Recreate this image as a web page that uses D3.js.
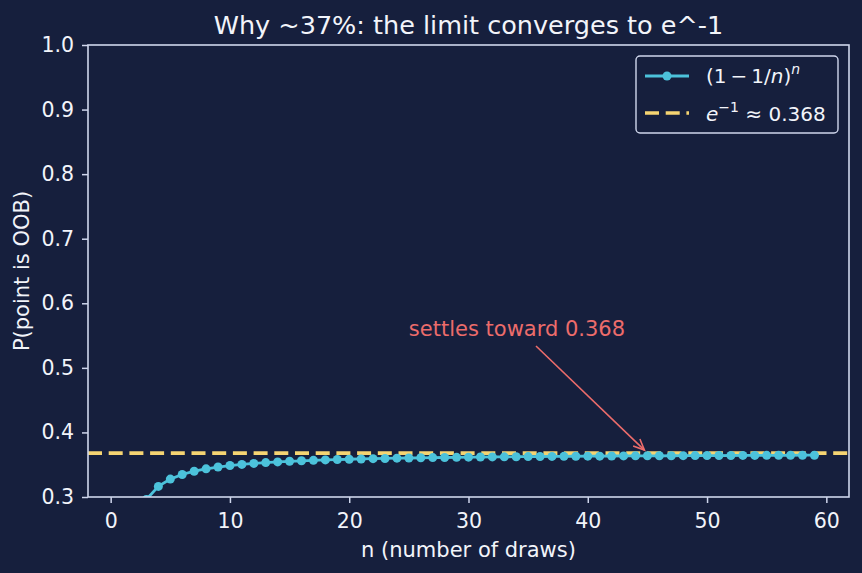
<!DOCTYPE html>
<html><head><meta charset="utf-8">
<script src="https://cdn.jsdelivr.net/npm/d3@7"></script>
<style>body{margin:0;background:#161f3d;} svg{display:block;font-family:"DejaVu Sans",sans-serif;}</style>
</head><body><svg id="c" width="862" height="573"></svg>
<script>
const nValues = d3.range(1, 60);
const probValues = [0.0000,0.2500,0.2963,0.3164,0.3277,0.3349,0.3399,0.3436,0.3464,0.3487,
0.3505,0.3520,0.3533,0.3543,0.3553,0.3561,0.3568,0.3574,0.3580,0.3585,
0.3589,0.3594,0.3597,0.3601,0.3604,0.3607,0.3610,0.3612,0.3614,0.3617,
0.3619,0.3621,0.3622,0.3624,0.3626,0.3627,0.3629,0.3630,0.3631,0.3632,
0.3633,0.3635,0.3636,0.3637,0.3638,0.3638,0.3639,0.3640,0.3641,0.3642,
0.3642,0.3643,0.3644,0.3644,0.3645,0.3646,0.3646,0.3647,0.3647];
const limitValue = 0.368;
const xTicks = [0,10,20,30,40,50,60];
const yTicks = [0.3,0.4,0.5,0.6,0.7,0.8,0.9,1.0];
const annot = {text:"settles toward 0.368", tx:25, ty:0.55, ax:45, ay:0.368};

const W=862,H=573, L=88,R=849,T=45,B=497;
const bg="#161f3d", fg="#f2f4fa", spine="#cfd6ec", cyan="#4cc2db", yellow="#f5d472", red="#ec6c6b";
const svg=d3.select("#c");
svg.append("rect").attr("width",W).attr("height",H).attr("fill",bg);
const x=d3.scaleLinear().domain([-1.9,61.9]).range([L,R]);
const y=d3.scaleLinear().domain([0.3,1.0]).range([B,T]);

const defs=svg.append("defs");
defs.append("clipPath").attr("id","clip").append("rect")
  .attr("x",L).attr("y",T).attr("width",R-L).attr("height",B-T);

const g=svg.append("g").attr("clip-path","url(#clip)");
g.append("line").attr("x1",L).attr("x2",R).attr("y1",y(limitValue)).attr("y2",y(limitValue))
  .attr("stroke",yellow).attr("stroke-width",3.6).attr("stroke-dasharray","14,6.7");
const data=nValues.map((n,i)=>[n,probValues[i]]);
g.append("path").datum(data).attr("d",d3.line().x(d=>x(d[0])).y(d=>y(d[1])))
  .attr("fill","none").attr("stroke",cyan).attr("stroke-width",2.8);
g.selectAll("circle").data(data).join("circle").attr("cx",d=>x(d[0])).attr("cy",d=>y(d[1]))
  .attr("r",4.5).attr("fill",cyan);

// axes
const xa=svg.append("g").attr("transform",`translate(0,${B})`)
  .call(d3.axisBottom(x).tickValues(xTicks).tickSize(6).tickFormat(d3.format("d")));
xa.selectAll("text").attr("y",31).attr("dy",0);
const ya=svg.append("g").attr("transform",`translate(${L},0)`)
  .call(d3.axisLeft(y).tickValues(yTicks).tickSize(6).tickPadding(8).tickFormat(d3.format(".1f")));
[xa,ya].forEach(a=>{a.select(".domain").remove();a.selectAll("line").attr("stroke",spine).attr("stroke-width",1.5);
  a.selectAll("text").attr("fill",fg).attr("font-size",20.5).attr("font-family","DejaVu Sans");});
svg.append("rect").attr("x",L).attr("y",T).attr("width",R-L).attr("height",B-T)
  .attr("fill","none").attr("stroke",spine).attr("stroke-width",1.6);

svg.append("text").attr("x",(L+R)/2).attr("y",34).attr("text-anchor","middle").attr("fill",fg)
  .attr("font-size",25.5).text("Why ~37%: the limit converges to e^-1");
svg.append("text").attr("x",(L+R)/2).attr("y",557).attr("text-anchor","middle").attr("fill",fg)
  .attr("font-size",21).text("n (number of draws)");
svg.append("text").attr("transform",`translate(29,${(T+B)/2}) rotate(-90)`).attr("text-anchor","middle").attr("fill",fg)
  .attr("font-size",21).text("P(point is OOB)");

// annotation
svg.append("text").attr("x",x(annot.tx)).attr("y",y(annot.ty)).attr("fill",red).attr("font-size",21).text(annot.text);
const ex=x(annot.ax)-3, ey=y(annot.ay)-3, sx=536, sy=346;
svg.append("line").attr("x1",sx).attr("y1",sy).attr("x2",ex).attr("y2",ey)
  .attr("stroke",red).attr("stroke-width",1.6);
const ang=Math.atan2(ey-sy,ex-sx), hl=12, hw=0.42;
svg.append("path").attr("d",`M${ex-hl*Math.cos(ang-hw)},${ey-hl*Math.sin(ang-hw)} L${ex},${ey} L${ex-hl*Math.cos(ang+hw)},${ey-hl*Math.sin(ang+hw)}`)
  .attr("fill","none").attr("stroke",red).attr("stroke-width",1.6);

// legend
const lg=svg.append("g");
lg.append("rect").attr("x",636).attr("y",56).attr("width",202).attr("height",77).attr("rx",4)
  .attr("fill",bg).attr("stroke",spine).attr("stroke-width",1.4);
lg.append("line").attr("x1",645).attr("x2",689).attr("y1",76).attr("y2",76).attr("stroke",cyan).attr("stroke-width",2.8);
lg.append("circle").attr("cx",667).attr("cy",76).attr("r",4.5).attr("fill",cyan);
lg.append("line").attr("x1",645).attr("x2",689).attr("y1",113).attr("y2",113).attr("stroke",yellow).attr("stroke-width",3.6).attr("stroke-dasharray","14,6.7");
const t1=lg.append("text").attr("x",706).attr("y",83).attr("fill",fg).attr("font-size",20);
t1.append("tspan").text("(1");
t1.append("tspan").attr("dx",4).text("−");
t1.append("tspan").attr("dx",4).text("1/");
t1.append("tspan").attr("font-style","italic").text("n");
t1.append("tspan").text(")");
t1.append("tspan").attr("font-style","italic").attr("font-size",14).attr("dy",-9).text("n");
const t2=lg.append("text").attr("x",706).attr("y",121).attr("fill",fg).attr("font-size",20);
t2.append("tspan").attr("font-style","italic").text("e");
t2.append("tspan").attr("font-size",14).attr("dy",-9).text("−1");
t2.append("tspan").attr("dy",9).text(" ≈ 0.368");
</script></body></html>
